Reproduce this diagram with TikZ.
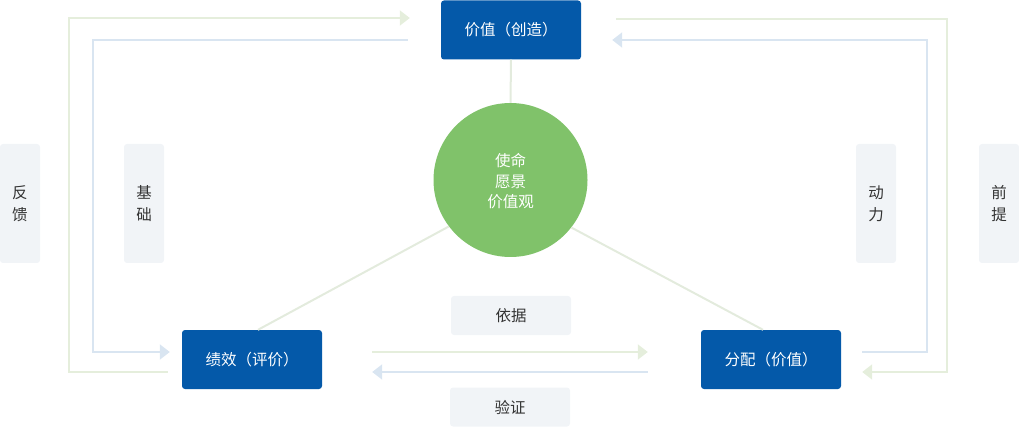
\documentclass[tikz,border=0pt]{standalone}
\usepackage{fontspec}
\setmainfont{Noto Sans CJK SC}
\usetikzlibrary{arrows.meta}
\definecolor{boxblue}{HTML}{0459A9}
\definecolor{circgreen}{HTML}{80C26A}
\definecolor{lblbg}{HTML}{F1F4F7}
\definecolor{lgreen}{HTML}{E5EEDC}
\definecolor{lblue}{HTML}{D9E5F1}
\definecolor{lline}{HTML}{E3EBDD}
\definecolor{txt}{HTML}{333333}
\begin{document}
\begin{tikzpicture}[x=1pt,y=-1pt,
  mainbox/.style={fill=boxblue,rounded corners=3pt,minimum width=140pt,minimum height=59pt,text=white,font=\fontsize{15.5}{18}\selectfont,inner sep=0pt},
  vlabel/.style={fill=lblbg,rounded corners=3pt,minimum width=40pt,minimum height=119pt,text=txt,font=\fontsize{15.5}{22}\selectfont,align=center,inner sep=0pt},
  hlabel/.style={fill=lblbg,rounded corners=3pt,minimum width=120pt,minimum height=39pt,text=txt,font=\fontsize{15.5}{18}\selectfont,inner sep=0pt},
  garr/.style={draw=lgreen,line width=2pt,-{Triangle[length=10pt,width=15pt]}},
  barr/.style={draw=lblue,line width=2pt,-{Triangle[length=10pt,width=15pt]}},
  spoke/.style={draw=lline,line width=2pt}]
\useasboundingbox (0,0) rectangle (1019,427);
% main nodes
\node[mainbox] (jz) at (511,30) {价值（创造）};
\node[mainbox] (pj) at (252,359.5) {绩效（评价）};
\node[mainbox] (fp) at (771,359.5) {分配（价值）};
\node[circle,fill=circgreen,minimum size=154pt,inner sep=0pt] (c) at (510.5,180) {};
\node[text=white,align=center,font=\fontsize{15.5}{20.5}\selectfont] (ct) at (510.5,181.5) {使命\\愿景\\价值观};
% labels
\node[vlabel] (fk) at (20,203.5) {反\\馈};
\node[vlabel] (jc) at (144,203.5) {基\\础};
\node[vlabel] (dl) at (876,203.5) {动\\力};
\node[vlabel] (qt) at (999,203.5) {前\\提};
\node[hlabel] (yj) at (511,315.5) {依据};
\node[hlabel] (yz) at (510,407) {验证};
% spokes
\draw[spoke] (jz.south) -- (c.north);
\draw[spoke] ([xshift=6pt]pj.north) -- (c.217);
\draw[spoke] ([xshift=-8pt]fp.north) -- (c.322);
% left loops
\draw[garr] ([shift={(-14pt,-12.5pt)}]pj.west) -| (69,18) -- ([shift={(-31pt,12pt)}]jz.west);
\draw[barr] ([shift={(-33pt,-10pt)}]jz.west) -| (93,352) -- ([shift={(-12pt,7.5pt)}]pj.west);
% right loops
\draw[garr] ([shift={(35pt,11pt)}]jz.east) -| (947,372) -- ([shift={(21pt,-12.5pt)}]fp.east);
\draw[barr] ([shift={(21pt,7.5pt)}]fp.east) -| (927,40) -- ([shift={(31pt,-10pt)}]jz.east);
% bottom arrows
\draw[garr] ([shift={(50pt,7.5pt)}]pj.east) -- ([shift={(-53pt,7.5pt)}]fp.west);
\draw[barr] ([shift={(-53pt,-12.5pt)}]fp.west) -- ([shift={(50pt,-12.5pt)}]pj.east);
\end{tikzpicture}
\end{document}
